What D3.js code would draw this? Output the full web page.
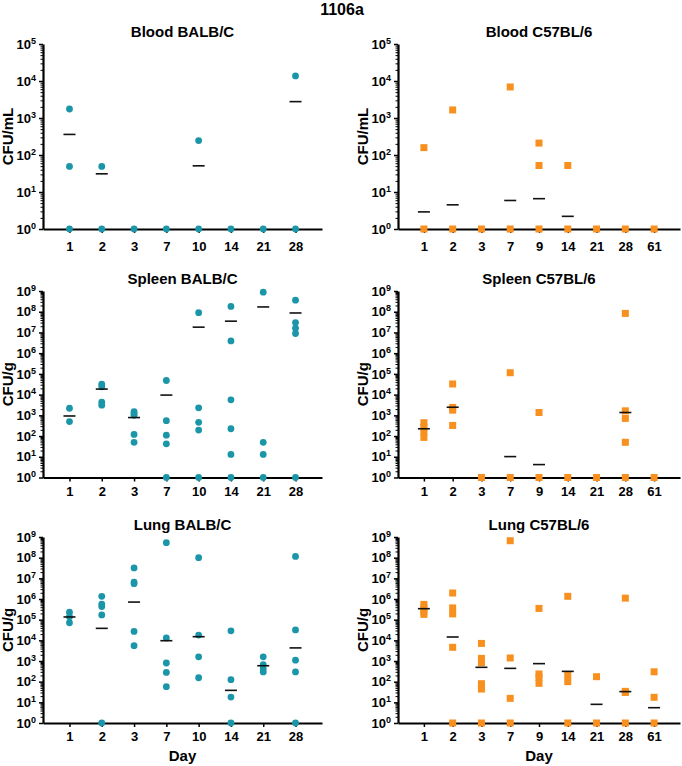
<!DOCTYPE html>
<html>
<head>
<meta charset="utf-8">
<script src="https://cdn.jsdelivr.net/npm/d3@7"></script>
<style>
  html, body { margin: 0; padding: 0; background: #fff; }
  svg text { font-family: "Liberation Sans", Arial, Helvetica, sans-serif; font-weight: bold; fill: #000; }
</style>
</head>
<body>
<svg id="chart" width="682" height="766"></svg>
<script>
// ---------------- DATA ----------------
const mainTitle = "1106a";
const balbDays = ["1", "2", "3", "7", "10", "14", "21", "28"];
const c57Days  = ["1", "2", "3", "7", "9", "14", "21", "28", "61"];

const bloodExponents = [0, 1, 2, 3, 4, 5];
const organExponents = [0, 1, 2, 3, 4, 5, 6, 7, 8, 9];

// Blood BALB/C (CFU/mL)
const bloodBalbValues = [[1750, 49, 1], [49, 1], [1], [1], [245, 1], [1], [1], [13700, 1]];
const bloodBalbMeans  = [360, 31, null, null, 51, null, null, 2770];

// Blood C57BL/6 (CFU/mL)
const bloodC57Values = [[158, 1], [1650, 1], [1], [6900, 1], [210, 52, 1], [52, 1], [1], [1], [1]];
const bloodC57Means  = [2.9, 4.5, null, 5.9, 6.6, 2.2, null, null, null];

// Spleen BALB/C (CFU/g)
const spleenBalbValues = [
  [2200, 500], [32000, 24000, 4300, 3100], [1500, 1250, 1000, 120, 50],
  [48000, 550, 110, 42, 1], [9e7, 2300, 460, 195, 1], [1.8e8, 3.9e6, 5600, 225, 13, 1],
  [8.8e8, 50, 13, 1], [3.6e8, 3e7, 1.6e7, 8.9e6, 1]
];
const spleenBalbMeans = [930, 18500, 780, 9500, 1.8e7, 3.5e7, 1.7e8, 8.7e7];

// Spleen C57BL/6 (CFU/g)
const spleenC57Values = [
  [440, 260, 160, 86], [32600, 2400, 1780, 325], [1], [114000, 1], [1370, 1],
  [1], [1], [8.3e7, 1650, 710, 50, 1], [1]
];
const spleenC57Means = [225, 2460, null, 10.2, 4.2, null, null, 1370, null];

// Lung BALB/C (CFU/g)
const lungBalbValues = [
  [2.3e5, 1.4e5, 7.1e4], [1.35e6, 5.7e5, 4.3e5, 1.7e5, 1], [3.2e7, 6.6e6, 5.5e6, 2.7e4, 5500],
  [5.3e8, 1.3e4, 800, 280, 57], [1e8, 1.8e4, 1600, 155], [2.9e4, 125, 18, 1],
  [1600, 660, 425, 295], [1.15e8, 3.2e4, 1100, 295, 1]
];
const lungBalbMeans = [1.35e5, 3.8e4, 7.1e5, 9600, 1.5e4, 38, 590, 4300];

// Lung C57BL/6 (CFU/g)
const lungC57Values = [
  [5.5e5, 3.8e5, 2.4e5, 1.8e5], [1.95e6, 3.7e5, 1.9e5, 4600, 1], [7100, 1340, 830, 80, 55, 44, 1],
  [6.6e8, 1400, 15.6, 1], [3.5e5, 235, 162, 83], [1.35e6, 200, 100, 1],
  [174, 1], [1.1e6, 34, 30, 1], [300, 17.5, 1]
];
const lungC57Means = [3.4e5, 1.45e4, 495, 440, 745, 315, 8, 33, 5.5];

// ---------------- LAYOUT ----------------
const teal = "#1b96a9";
const orange = "#f7901e";

const panels = [
  { title: "Blood BALB/C",  ylabel: "CFU/mL", days: balbDays, values: bloodBalbValues, means: bloodBalbMeans, exps: bloodExponents, shape: "circle", color: teal,   x0: 43,  x1: 322, top: 44,  bottom: 229, tickLabelDy: 22, pad: 0.82 },
  { title: "Blood C57BL/6", ylabel: "CFU/mL", days: c57Days,  values: bloodC57Values,  means: bloodC57Means,  exps: bloodExponents, shape: "square", color: orange, x0: 398, x1: 680, top: 44,  bottom: 229, tickLabelDy: 22, pad: 0.9 },
  { title: "Spleen BALB/C", ylabel: "CFU/g",  days: balbDays, values: spleenBalbValues, means: spleenBalbMeans, exps: organExponents, shape: "circle", color: teal,   x0: 43,  x1: 322, top: 291, bottom: 477.5, tickLabelDy: 18, pad: 0.82 },
  { title: "Spleen C57BL/6",ylabel: "CFU/g",  days: c57Days,  values: spleenC57Values, means: spleenC57Means, exps: organExponents, shape: "square", color: orange, x0: 398, x1: 680, top: 291, bottom: 477.5, tickLabelDy: 18, pad: 0.9 },
  { title: "Lung BALB/C",   ylabel: "CFU/g",  days: balbDays, values: lungBalbValues,  means: lungBalbMeans,  exps: organExponents, shape: "circle", color: teal,   x0: 43,  x1: 322, top: 537, bottom: 723, tickLabelDy: 18, pad: 0.82, xlabel: "Day" },
  { title: "Lung C57BL/6",  ylabel: "CFU/g",  days: c57Days,  values: lungC57Values,   means: lungC57Means,   exps: organExponents, shape: "square", color: orange, x0: 398, x1: 680, top: 537, bottom: 723, tickLabelDy: 18, pad: 0.9, xlabel: "Day" }
];

const svg = d3.select("#chart");

svg.append("text")
  .attr("x", 342).attr("y", 15)
  .attr("text-anchor", "middle")
  .style("font-size", "16px")
  .text(mainTitle);

panels.forEach(p => {
  const g = svg.append("g");
  const maxExp = d3.max(p.exps);
  const x = d3.scalePoint().domain(p.days).range([p.x0, p.x1]).padding(p.pad);
  const y = d3.scaleLog().domain([1, Math.pow(10, maxExp)]).range([p.bottom, p.top]);

  // minor ticks
  const minor = [];
  for (let e = 0; e < maxExp; e++) for (let m = 2; m <= 9; m++) minor.push(m * Math.pow(10, e));
  g.append("g")
    .attr("transform", `translate(${p.x0},0)`)
    .call(d3.axisLeft(y).tickValues(minor).tickSize(2.5).tickFormat(""))
    .call(a => a.select(".domain").remove())
    .call(a => a.selectAll(".tick line").attr("stroke-width", 1));

  // major y axis
  const yAxis = g.append("g")
    .attr("transform", `translate(${p.x0},0)`)
    .call(d3.axisLeft(y).tickValues(p.exps.map(e => Math.pow(10, e))).tickSize(4).tickSizeOuter(0).tickPadding(3).tickFormat(""));
  yAxis.select(".domain").attr("stroke-width", 2.2);
  yAxis.selectAll(".tick line").attr("stroke-width", 1.5);
  yAxis.selectAll(".tick text")
    .style("font-size", "13px")
    .each(function(d) {
      const t = d3.select(this);
      t.append("tspan").text("10");
      t.append("tspan").text(String(Math.round(Math.log10(d))))
        .attr("dy", "-5").style("font-size", "9px");
    });

  // x axis
  const xAxis = g.append("g")
    .attr("transform", `translate(0,${p.bottom})`)
    .call(d3.axisBottom(x).tickSize(4).tickSizeOuter(0).tickPadding(0));
  xAxis.select(".domain").attr("stroke-width", 2.2);
  xAxis.selectAll(".tick line").attr("stroke-width", 1.5);
  xAxis.selectAll(".tick text")
    .attr("y", p.tickLabelDy).attr("dy", null)
    .style("font-size", "13px");

  // title
  g.append("text")
    .attr("x", (p.x0 + p.x1) / 2).attr("y", p.top - 7)
    .attr("text-anchor", "middle")
    .style("font-size", "15px")
    .text(p.title);

  // y label
  g.append("text")
    .attr("transform", `translate(${p.x0 - 30},${(p.top + p.bottom) / 2}) rotate(-90)`)
    .attr("text-anchor", "middle")
    .style("font-size", "15px")
    .text(p.ylabel);

  if (p.xlabel) {
    g.append("text")
      .attr("x", (p.x0 + p.x1) / 2).attr("y", 761)
      .attr("text-anchor", "middle")
      .style("font-size", "15px")
      .text(p.xlabel);
  }

  // points
  const pts = [];
  p.values.forEach((vals, i) => vals.forEach(v => pts.push({ day: p.days[i], v })));
  if (p.shape === "circle") {
    g.append("g").selectAll("circle").data(pts).join("circle")
      .attr("cx", d => x(d.day)).attr("cy", d => y(d.v))
      .attr("r", 3.4).attr("fill", p.color);
  } else {
    const s = 7;
    g.append("g").selectAll("rect").data(pts).join("rect")
      .attr("x", d => x(d.day) - s / 2).attr("y", d => y(d.v) - s / 2)
      .attr("width", s).attr("height", s).attr("fill", p.color);
  }

  // mean lines
  const means = p.means.map((m, i) => ({ day: p.days[i], m })).filter(d => d.m != null);
  g.append("g").selectAll("line").data(means).join("line")
    .attr("x1", d => x(d.day) - 6).attr("x2", d => x(d.day) + 6)
    .attr("y1", d => y(d.m)).attr("y2", d => y(d.m))
    .attr("stroke", "#111").attr("stroke-width", 1.6);
});
</script>
</body>
</html>
